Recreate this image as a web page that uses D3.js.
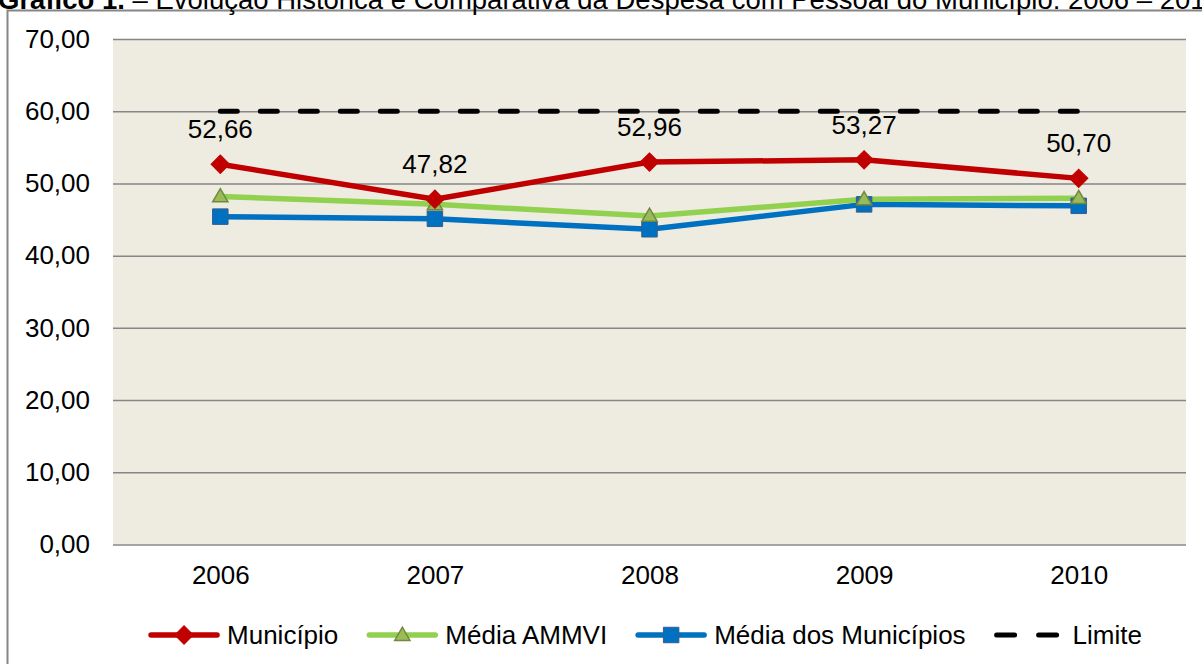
<!DOCTYPE html>
<html>
<head>
<meta charset="utf-8">
<script src="https://cdn.jsdelivr.net/npm/d3@7"></script>
<style>
  body { margin: 0; background: #fff; }
  text { font-family: "Liberation Sans", Arial, sans-serif; fill: #000; }
</style>
</head>
<body>
<div id="chart"></div>
<script>
// Data
var years = ['2006', '2007', '2008', '2009', '2010'];
var municipio = [52.66, 47.82, 52.96, 53.27, 50.70];
var mediaAmmvi = [48.2, 47.1, 45.5, 47.8, 47.95];
var mediaMunicipios = [45.4, 45.1, 43.65, 47.1, 46.9];
var limite = [60, 60, 60, 60, 60];
var yTicks = [0, 10, 20, 30, 40, 50, 60, 70];
var seriesNames = ['Município', 'Média AMMVI', 'Média dos Municípios', 'Limite'];

var W = 1202, H = 664;
var plot = { left: 113, right: 1186, top: 39, bottom: 544.5 };
var fontSize = '26px';

var svg = d3.select('#chart').append('svg')
    .attr('width', W)
    .attr('height', H);

// Outer chart frame
svg.append('rect')
    .attr('x', 7.5)
    .attr('y', 10.5)
    .attr('width', 1300)
    .attr('height', 700)
    .attr('fill', 'none')
    .attr('stroke', '#868686')
    .attr('stroke-width', 2);

// Title (cut off at the top, as in the source)
var title = svg.append('text')
    .attr('x', -2)
    .attr('y', 9)
    .style('font-size', '27.5px');
title.append('tspan').style('font-weight', 'bold').text('Gráfico 1.');
title.append('tspan').text(' –   Evolução Histórica e Comparativa da Despesa com Pessoal do Município: 2006 – 2010');

// Scales
var x = d3.scalePoint().domain(years).range([plot.left, plot.right]).padding(0.5);
var y = d3.scaleLinear().domain([0, 70]).range([plot.bottom, plot.top]);

// Plot background
svg.append('rect')
    .attr('x', plot.left)
    .attr('y', plot.top)
    .attr('width', plot.right - plot.left)
    .attr('height', plot.bottom - plot.top)
    .attr('fill', '#EEECE1');

// Grid lines
svg.append('g')
    .attr('transform', 'translate(' + plot.left + ',0)')
    .call(d3.axisLeft(y).tickValues(yTicks).tickSize(-(plot.right - plot.left)).tickFormat(''))
    .call(function (g) { g.select('.domain').remove(); })
    .selectAll('line')
    .attr('stroke', '#868686')
    .attr('stroke-width', 1.5);

// Y tick labels
var fmt = function (v) { return d3.format('.2f')(v).replace('.', ','); };
svg.append('g')
    .attr('transform', 'translate(' + plot.left + ',0)')
    .call(d3.axisLeft(y).tickValues(yTicks).tickSize(0).tickPadding(23).tickFormat(fmt))
    .call(function (g) { g.select('.domain').remove(); })
    .selectAll('text')
    .style('font-size', fontSize)
    .style('font-family', '"Liberation Sans", Arial, sans-serif')
    .attr('fill', '#000');

// X tick labels
svg.append('g')
    .attr('transform', 'translate(0,' + plot.bottom + ')')
    .call(d3.axisBottom(x).tickSize(0).tickPadding(21))
    .call(function (g) { g.select('.domain').remove(); })
    .selectAll('text')
    .style('font-size', fontSize)
    .style('font-family', '"Liberation Sans", Arial, sans-serif')
    .attr('fill', '#000');

var line = d3.line()
    .x(function (d, i) { return x(years[i]); })
    .y(function (d) { return y(d); });

// Limite (dashed)
svg.append('path')
    .datum(limite)
    .attr('d', line)
    .attr('fill', 'none')
    .attr('stroke', '#000')
    .attr('stroke-width', 5)
    .attr('stroke-linecap', 'round')
    .attr('stroke-dasharray', '17 23');

// Symbols
var diamond = d3.symbol().type(d3.symbolSquare).size(170);
var triangle = d3.symbol().type(d3.symbolTriangle).size(100);
var square = d3.symbol().type(d3.symbolSquare).size(240);

function drawMarker(g, kind) {
    if (kind === 'diamond') {
        g.append('path').attr('d', diamond()).attr('transform', 'rotate(45)')
            .attr('fill', '#C00000').attr('stroke', '#C00000').attr('stroke-width', 1);
    } else if (kind === 'triangle') {
        g.append('path').attr('d', triangle()).attr('transform', 'translate(0,1)')
            .attr('fill', '#9BBB59').attr('stroke', '#71893F').attr('stroke-width', 1.5);
    } else {
        g.append('path').attr('d', square())
            .attr('fill', '#0070C0').attr('stroke', '#385D8A').attr('stroke-width', 1);
    }
}

var series = [
    { values: mediaMunicipios, color: '#0070C0', marker: 'square' },
    { values: mediaAmmvi, color: '#92D050', marker: 'triangle' },
    { values: municipio, color: '#C00000', marker: 'diamond' }
];

series.forEach(function (s) {
    svg.append('path')
        .datum(s.values)
        .attr('d', line)
        .attr('fill', 'none')
        .attr('stroke', s.color)
        .attr('stroke-width', 5.5)
        .attr('stroke-linejoin', 'round');
});
series.forEach(function (s) {
    s.values.forEach(function (v, i) {
        var g = svg.append('g').attr('transform', 'translate(' + x(years[i]) + ',' + y(v) + ')');
        drawMarker(g, s.marker);
    });
});

// Data labels for Município
svg.selectAll('.value-label')
    .data(municipio)
    .enter()
    .append('text')
    .attr('class', 'value-label')
    .attr('x', function (d, i) { return x(years[i]); })
    .attr('y', function (d) { return y(d) - 26; })
    .attr('text-anchor', 'middle')
    .style('font-size', fontSize)
    .text(fmt);

// Legend
var legendKinds = ['diamond', 'triangle', 'square', 'dash'];
var legendColors = ['#C00000', '#92D050', '#0070C0', '#000'];
var gap = 29;
var legend = svg.append('g');
var lx = 0, ly = 635;
seriesNames.forEach(function (name, i) {
    var item = legend.append('g').attr('transform', 'translate(' + lx + ',' + ly + ')');
    if (legendKinds[i] === 'dash') {
        item.append('line').attr('x1', 2).attr('x2', 64).attr('y1', 0).attr('y2', 0)
            .attr('stroke', '#000').attr('stroke-width', 5).attr('stroke-linecap', 'round')
            .attr('stroke-dasharray', '18 24');
    } else {
        item.append('line').attr('x1', 2).attr('x2', 68).attr('y1', 0).attr('y2', 0)
            .attr('stroke', legendColors[i]).attr('stroke-width', 5.5).attr('stroke-linecap', 'round');
        drawMarker(item.append('g').attr('transform', 'translate(35,0)'), legendKinds[i]);
    }
    var t = item.append('text')
        .attr('x', 78)
        .attr('y', 9)
        .style('font-size', fontSize)
        .text(name);
    lx += 78 + t.node().getComputedTextLength() + gap;
});
var legendWidth = lx - gap;
legend.attr('transform', 'translate(' + ((plot.left + plot.right) / 2 - 4 - legendWidth / 2) + ',0)');
</script>
</body>
</html>
